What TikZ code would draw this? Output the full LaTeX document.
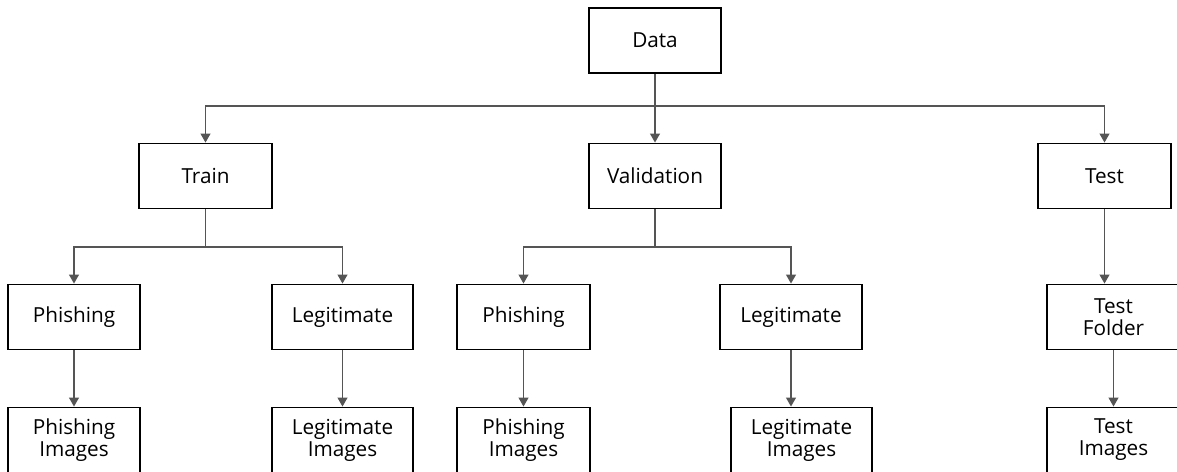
\documentclass[tikz,border=0pt]{standalone}
\usepackage{fontspec}
\setsansfont{Open Sans}
\usetikzlibrary{arrows.meta, positioning}
\definecolor{cline}{HTML}{555555}
\tikzset{
  every picture/.style={font=\sffamily\fontsize{11.8}{12.6}\selectfont},
  box/.style={draw=black, line width=1.1pt, fill=white, align=center, inner sep=0pt, minimum width=#1*0.02cm, minimum height=1.3cm},
  box/.default=133,
  link/.style={draw=cline, line width=0.7pt},
  arrow/.style={link, -{Triangle[length=0.18cm, width=0.2cm]}},
}
\begin{document}
\begin{tikzpicture}[x=0.02cm, y=-0.02cm]
  \useasboundingbox (0,0) rectangle (1177,472);
  % top level
  \node[box=132] (data) at (655,40.5) {Data};
  \node[box] (train) at (205.5,176) {Train};
  \node[box=132] (val) at (655,176) {Validation};
  \node[box] (test) at (1104.5,176) {Test};
  % second level
  \node[box=132] (phtr) at (74,317) {Phishing};
  \node[box=141] (lgtr) at (342.5,317) {Legitimate};
  \node[box] (phva) at (523.5,317) {Phishing};
  \node[box=142] (lgva) at (791,317) {Legitimate};
  \node[box] (tfold) at (1113.5,317) {Test\\Folder};
  % image folders
  \node[box=132] (phtrimg) at (74,440) {Phishing\\Images};
  \node[box=141] (lgtrimg) at (342.5,440) {Legitimate\\Images};
  \node[box] (phvaimg) at (523.5,440) {Phishing\\Images};
  \node[box=141] (lgvaimg) at (801.5,440) {Legitimate\\Images};
  \node[box] (timg) at (1113.5,440) {Test\\Images};
  % junctions
  \coordinate (jdata) at (655,106);
  \coordinate (jtrain) at (205.5,247);
  \coordinate (jval) at (655,247);
  \draw[link] (data) -- (jdata);
  \draw[arrow] (jdata) -- (val);
  \foreach \n in {train, test} \draw[arrow] (jdata) -| (\n.north);
  \draw[link] (train) -- (jtrain);
  \foreach \n in {phtr, lgtr} \draw[arrow] (jtrain) -| (\n.north);
  \draw[link] (val) -- (jval);
  \foreach \n in {phva, lgva} \draw[arrow] (jval) -| (\n.north);
  \draw[arrow] (test.south) -- (test.south |- tfold.north);
  % down to the images
  \foreach \a/\b in {phtr/phtrimg, lgtr/lgtrimg, phva/phvaimg, lgva/lgvaimg, tfold/timg}
    \draw[arrow] (\a.south) -- (\a.south |- \b.north);
\end{tikzpicture}
\end{document}
